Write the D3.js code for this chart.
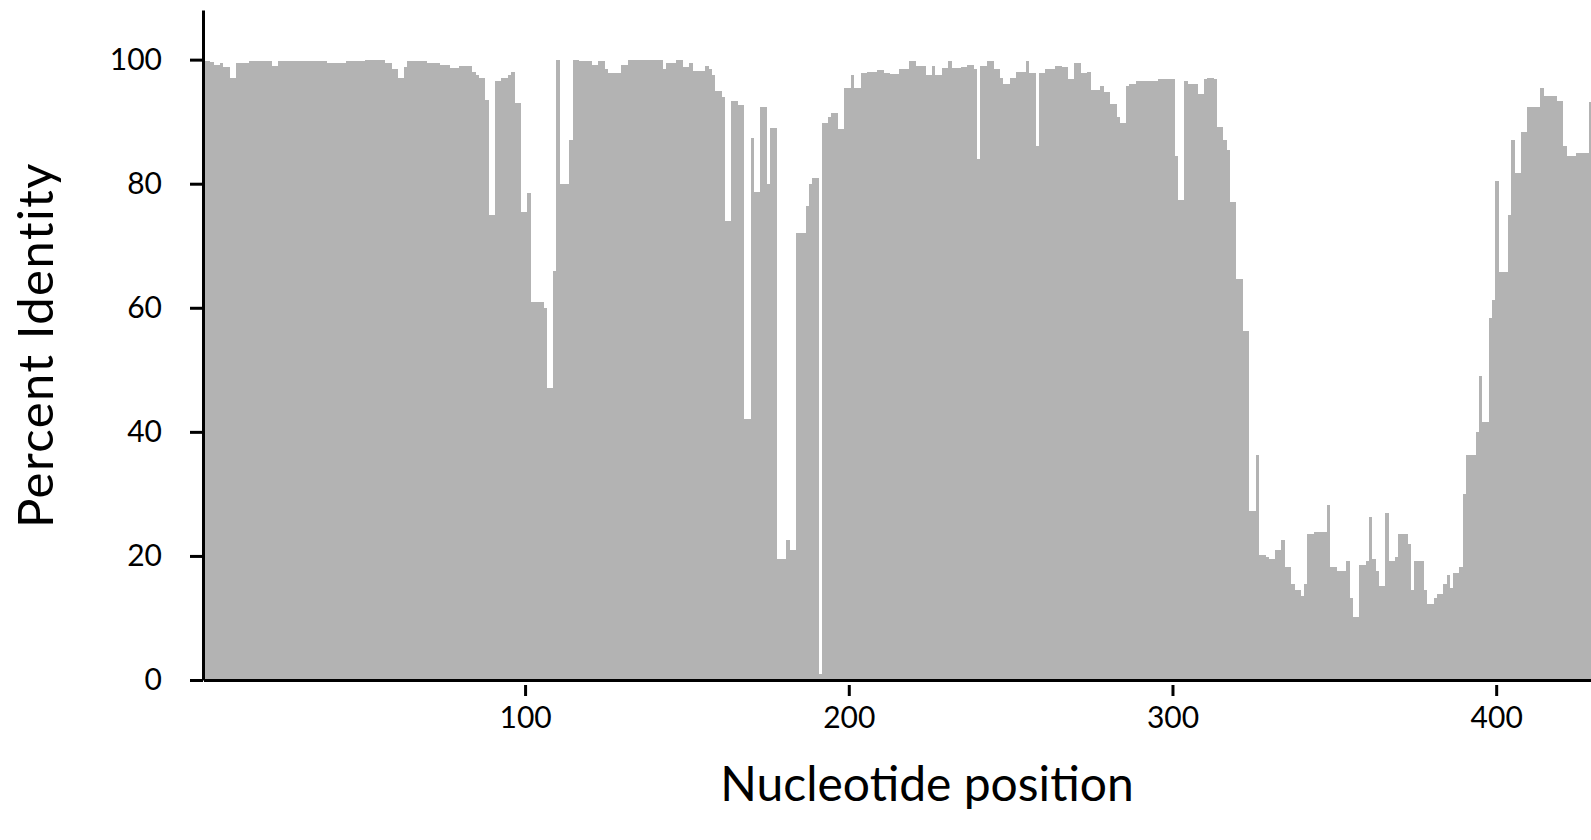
<!doctype html>
<html>
<head>
<meta charset="utf-8">
<script type="text/javascript" src="https://cdn.jsdelivr.net/npm/d3@7/dist/d3.min.js"></script>
<style>
  body { margin: 0; background: #fff; }
  text { font-family: Lato, "Open Sans", sans-serif; fill: #000; }
</style>
</head>
<body>
<svg width="1591" height="840"></svg>
<script type="text/javascript">
// percent identity per nucleotide position (1..429)
var identity = [
  99.8, 99.8, 99.6, 99.1, 99.1, 99.5, 98.8, 98.8, 97.1, 97.1,
  99.5, 99.5, 99.5, 99.5, 99.8, 99.8, 99.8, 99.8, 99.8, 99.8,
  99.8, 99, 99, 99.7, 99.7, 99.7, 99.7, 99.7, 99.7, 99.7,
  99.7, 99.7, 99.7, 99.7, 99.7, 99.7, 99.7, 99.7, 99.5, 99.5,
  99.5, 99.5, 99.5, 99.5, 99.8, 99.8, 99.8, 99.8, 99.8, 99.8,
  99.9, 99.9, 99.9, 99.9, 99.9, 99.9, 99.5, 99.5, 98.5, 98.5,
  97.1, 97.1, 98.8, 99.8, 99.8, 99.8, 99.8, 99.8, 99.8, 99.5,
  99.5, 99.5, 99.5, 99.1, 99.1, 99.1, 98.6, 98.6, 98.6, 99,
  99, 99, 99, 98, 97.5, 97, 97, 93.5, 75, 75,
  96.5, 96.5, 97, 97, 97.5, 98, 93, 93, 75.5, 75.5,
  78.5, 61, 61, 61, 61, 60, 47, 47, 66, 100,
  80, 80, 80, 87, 100, 100, 99.7, 99.7, 99.7, 99.7,
  99.1, 99.1, 99.8, 99.8, 98.5, 97.9, 97.9, 97.9, 97.9, 99.1,
  99.1, 99.9, 99.9, 99.9, 99.9, 99.9, 99.9, 99.9, 99.9, 99.9,
  99.9, 99.9, 98.5, 99.5, 99.5, 99.5, 99.9, 99.9, 98.8, 98.8,
  99.5, 98.1, 98.1, 98.1, 98.1, 99, 98.5, 97.5, 95, 95,
  94, 74, 74, 93.4, 93.4, 92.7, 92.7, 42, 42, 87.4,
  78.7, 78.7, 92.4, 92.4, 80, 89, 89, 19.5, 19.5, 19.5,
  22.5, 21, 21, 72, 72, 72, 76.4, 80, 81, 81,
  1, 89.8, 89.8, 90.8, 91.4, 91.4, 88.8, 88.8, 95.5, 95.5,
  97.5, 95.5, 95.5, 97.8, 97.8, 98, 98, 98, 98.4, 98.4,
  97.8, 97.8, 97.7, 97.7, 97.7, 98.5, 98.5, 98.5, 99.8, 99.8,
  99, 99, 99, 97.5, 97.5, 99, 97.5, 97.5, 98.6, 98.6,
  99.8, 98.6, 98.6, 98.6, 98.8, 98.8, 99.1, 99.1, 98.5, 84,
  99, 99, 99.8, 99.8, 98.5, 98.5, 97.1, 96.1, 96.1, 97,
  97, 98, 98, 98, 99.8, 97.8, 97.8, 86, 97.8, 97.8,
  98.5, 98.5, 98.5, 99, 99, 98.8, 98.8, 96.8, 96.8, 99.5,
  99.5, 97.8, 97.8, 98, 95.1, 95.1, 95.1, 95.8, 94.8, 94.8,
  92.8, 92.8, 90.8, 89.8, 89.8, 95.8, 96.1, 96.1, 96.5, 96.5,
  96.5, 96.5, 96.5, 96.5, 96.5, 96.8, 96.8, 96.8, 96.8, 96.8,
  84.5, 77.4, 77.4, 96.5, 96.1, 96.1, 96.1, 94.4, 94.4, 96.8,
  97.1, 97.1, 96.8, 89.1, 89.1, 87.1, 85.4, 77, 77, 64.7,
  64.7, 56.3, 56.3, 27.2, 27.2, 36.3, 20.2, 20.2, 19.9, 19.5,
  19.5, 20.9, 20.9, 22.5, 18.2, 18.2, 15.5, 14.5, 14.5, 13.5,
  15.5, 23.5, 23.5, 23.9, 23.9, 23.9, 23.9, 28.2, 18.2, 18.2,
  17.5, 17.5, 17.5, 19.2, 13.2, 10.2, 10.2, 18.5, 18.5, 19.2,
  26.2, 19.5, 17.5, 15.2, 15.2, 26.9, 19.2, 19.2, 19.9, 23.5,
  23.5, 23.5, 21.9, 14.5, 19.2, 19.2, 19.2, 14.5, 12.2, 12.2,
  13.2, 13.8, 13.8, 15.5, 16.9, 14.8, 17.2, 17.2, 18.2, 30,
  36.3, 36.3, 36.3, 39.9, 49, 41.6, 41.6, 58.3, 61.3, 80.4,
  65.7, 65.7, 65.7, 75, 87.1, 81.7, 81.7, 88.4, 88.4, 92.4,
  92.4, 92.4, 92.4, 95.5, 94.1, 94.1, 94.1, 94.1, 93.4, 93.4,
  86, 84.4, 84.4, 84.4, 85, 85, 85, 85, 93.1
];
var positions = identity.map((d, i) => i + 1);
var xTickValues = [100, 200, 300, 400];
var yTickValues = [0, 20, 40, 60, 80, 100];

var svg = d3.select("svg");

var xScale = d3.scaleBand()
  .domain(positions)
  .range([203.5, 203.5 + positions.length * 3.237])
  .padding(0);
var yScale = d3.scaleLinear().domain([0, 108]).range([680, 10]);

svg.append("g")
  .selectAll("rect")
  .data(identity)
  .enter()
  .append("rect")
  .attr("x", (d, i) => xScale(positions[i]))
  .attr("width", xScale.bandwidth() + 0.3)
  .attr("y", d => yScale(d))
  .attr("height", d => yScale(0) - yScale(d))
  .style("fill", "#b3b3b3")
  .style("shape-rendering", "crispEdges");

// axes
var xAxis = d3.axisBottom(xScale)
  .tickValues(xTickValues)
  .tickSize(16)
  .tickSizeOuter(0)
  .tickPadding(11);
var gx = svg.append("g").attr("transform", "translate(0,680)").call(xAxis);
gx.select(".domain").attr("stroke", "#000").attr("stroke-width", 3);
gx.selectAll(".tick line").attr("y1", 5).attr("stroke", "#000").attr("stroke-width", 3);
gx.selectAll(".tick text").style("font-size", "30px");

var yAxis = d3.axisLeft(yScale)
  .tickValues(yTickValues)
  .tickSize(13)
  .tickSizeOuter(0)
  .tickPadding(28);
var gy = svg.append("g").attr("transform", "translate(203,0)").call(yAxis);
gy.select(".domain").attr("stroke", "#000").attr("stroke-width", 3);
gy.selectAll(".tick line").attr("stroke", "#000").attr("stroke-width", 3);
gy.selectAll(".tick text").style("font-size", "30px");

// titles
svg.append("text")
  .attr("x", 927)
  .attr("y", 801)
  .attr("text-anchor", "middle")
  .style("font-size", "48px")
  .text("Nucleotide position");

svg.append("text")
  .attr("transform", "translate(53,345) rotate(-90)")
  .attr("text-anchor", "middle")
  .style("font-size", "49px")
  .style("letter-spacing", "1.5px")
  .text("Percent Identity");
</script>
</body>
</html>
